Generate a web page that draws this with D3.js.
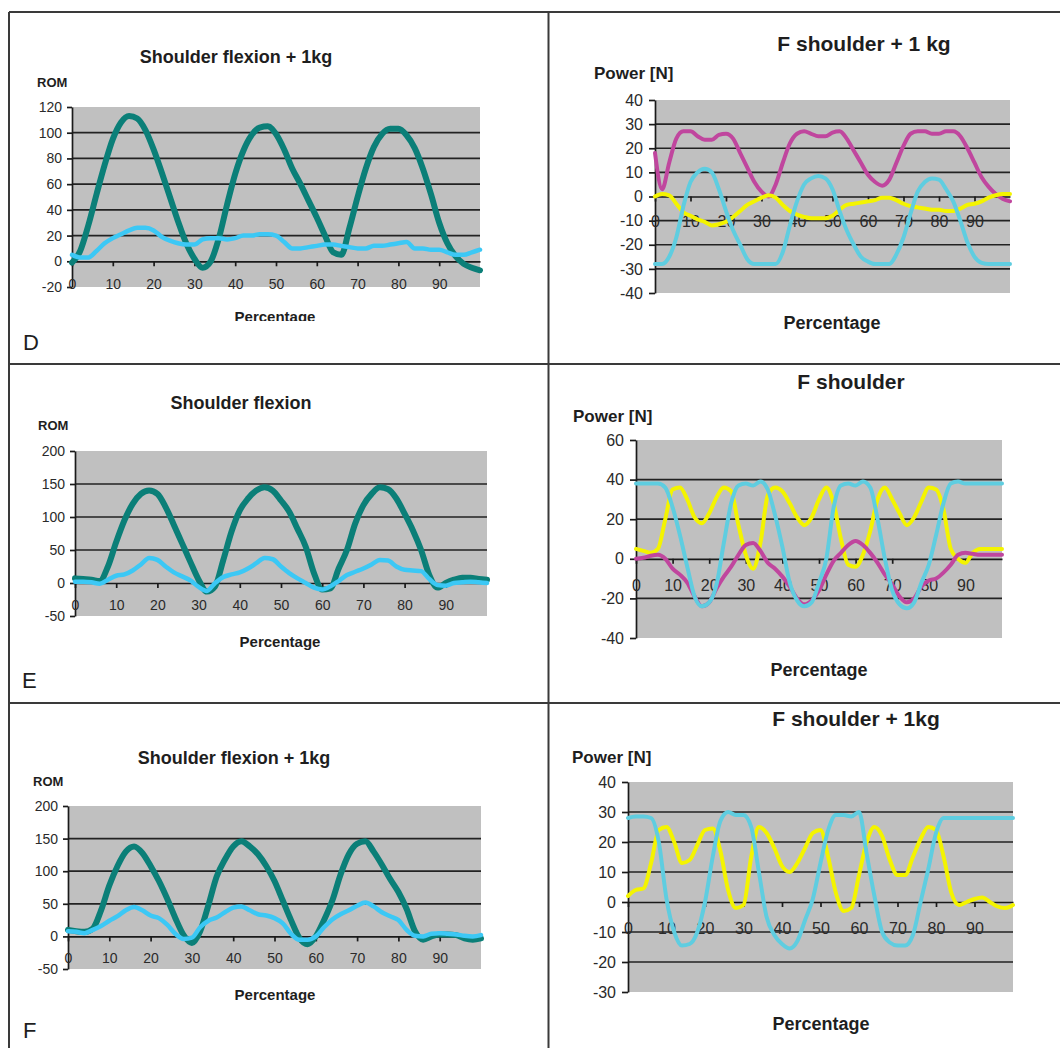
<!DOCTYPE html>
<html>
<head>
<meta charset="utf-8">
<script src="https://cdn.jsdelivr.net/npm/d3@7"></script>
<style>
  body { margin: 0; background: #fff; }
  svg { display: block; font-family: Arial, "Liberation Sans", sans-serif; }
</style>
</head>
<body>
<div id="chart"></div>
<script>

// Percentage of the movement cycle (category axis).
const pct = [0, 2, 4, 6, 8, 10, 12, 14, 16, 18, 20, 22, 24, 26, 28, 30, 32, 34, 36, 38, 40,
             42, 44, 46, 48, 50, 52, 54, 56, 58, 60, 62, 64, 66, 68, 70, 72, 74, 76, 78, 80,
             82, 84, 86, 88, 90, 92, 94, 96, 98, 100];
const xTickLabels = [0, 10, 20, 30, 40, 50, 60, 70, 80, 90];

// D: shoulder flexion + 1kg (ROM) and F shoulder + 1 kg (power)
const dRomTeal = [-1, 8, 28, 52, 75, 95, 108, 113, 111, 102, 87, 69, 50, 31, 14, 2, -5, 0, 18, 44, 68,
                  86, 98, 104, 105, 99, 87, 72, 60, 47, 34, 20, 7, 5, 26, 50, 72, 89, 99, 103, 103,
                  98, 88, 72, 52, 30, 14, 4, -2, -5, -7];
const dRomCyan = [5, 3, 3, 8, 14, 18, 21, 24, 26, 26, 24, 19, 16, 14, 13, 13, 17, 18, 18, 17, 18,
                  20, 20, 21, 21, 20, 15, 10, 10, 11, 12, 13, 13, 12, 11, 10, 10, 12, 12, 13, 14,
                  15, 10, 10, 9, 9, 7, 5, 5, 7, 9];
const dPowMagenta = [18, 3, 14, 24, 27, 27, 25, 23.5, 23.5, 25.5, 26, 24, 18, 12, 6, 2, 0, 5, 14, 22, 26,
                     27, 26, 25, 25, 26.5, 27, 24, 19, 14, 9, 6, 4.5, 7, 14, 21, 26, 27, 27, 26, 26,
                     27, 27, 25, 20, 14, 8, 4, 1, -1, -2];
const dPowYellow = [0, 1, 0.5, -3, -6.5, -8, -9.5, -10.5, -12, -11.5, -10.5, -8.5, -6, -3.5, -2, -0.5, 0.5, -0.5, -3.5, -6, -7.5,
                    -8.5, -9, -9, -9, -8, -5.5, -3.5, -3, -2.5, -2, -1.5, -0.5, -0.5, -1.5, -3, -4, -4.5, -5, -5.5, -5.5,
                    -6, -6, -5, -3.5, -3, -2, -0.5, 0.5, 1, 1];
const dPowCyan = [-28, -28, -25, -17, -4, 6, 10, 11.5, 10, 3, -6, -14, -20, -26, -28, -28, -28, -28, -23, -12, -2,
                  5, 7.5, 8.5, 7.5, 3, -6, -14, -20, -25, -27, -28, -28, -28, -24, -17, -7, 2, 6, 7.5, 7,
                  3, -2, -10, -19, -25, -27.5, -28, -28, -28, -28];

// E: shoulder flexion (ROM) and F shoulder (power)
const eRomTeal = [7, 6, 5, 3, 25, 62, 95, 120, 135, 140, 135, 115, 88, 60, 32, 5, -13, -5, 35, 78, 110,
                  128, 140, 145, 140, 125, 108, 82, 55, 15, -10, -8, 22, 50, 90, 118, 135, 145, 142, 128, 105,
                  80, 50, 12, -7, 0, 5, 8, 8, 6, 5];
const eRomCyan = [2, 2, 1, -1, 5, 11, 13, 19, 28, 38, 35, 25, 16, 10, 4, -6, -12, 0, 9, 13, 16,
                  22, 30, 38, 36, 25, 15, 7, 0, -7, -10, -5, 3, 12, 17, 22, 28, 35, 34, 25, 20,
                  19, 18, 6, -3, -4, 0, 1, 2, 1, 0];
const ePowCyan = [38, 38, 38, 38, 36, 26, 12, -4, -19, -24, -22, -13, 8, 28, 37, 38, 37, 39, 35, 22, 6,
                  -12, -21, -24, -22, -12, 0, 26, 37, 38, 37, 39, 36, 20, 0, -16, -23, -25, -22, -12, -3,
                  12, 28, 38, 39, 38, 38, 38, 38, 38, 38];
const ePowYellow = [5, 4, 3, 5, 20, 35, 36, 30, 21, 18, 23, 31, 36, 34, 17, 2, -5, 8, 32, 36, 34,
                    28, 21, 17, 21, 30, 36, 28, 10, -3, -4, 2, 14, 30, 36, 30, 23, 17, 21, 29, 36,
                    35, 25, 5, 0, -2, 3, 5, 5, 5, 5];
const ePowMagenta = [0, 0.5, 1.5, 2, 0, -5, -8, -12, -19, -24, -22, -15, -9, -4, 2, 7, 8, 4, -2, -5, -9,
                     -14, -20, -23, -21, -16, -8, -1, 3, 7, 9, 7, 3, -2, -8, -13, -19, -22, -20, -14, -11,
                     -10, -7, -3, 2, 3, 2.5, 2, 2, 2, 2];

// F: shoulder flexion + 1kg (ROM) and F shoulder + 1kg (power)
const fRomTeal = [10, 8, 7, 12, 40, 78, 108, 130, 138, 128, 108, 85, 58, 28, 2, -10, 8, 48, 92, 118, 138,
                  146, 138, 126, 108, 85, 55, 25, -2, -12, 0, 25, 55, 95, 126, 142, 146, 130, 110, 88, 68,
                  42, 8, -5, 0, 3, 3, 2, -3, -5, -3];
const fRomCyan = [8, 7, 5, 10, 16, 24, 31, 40, 45, 40, 32, 28, 18, 4, -4, -2, 14, 24, 29, 37, 44,
                  46, 40, 34, 32, 28, 20, 4, -5, -5, 0, 14, 26, 34, 40, 47, 52, 46, 37, 31, 25,
                  10, 1, 0, 4, 5, 4, 3, 1, 0, 2];
const fPowCyan = [28, 28.5, 28.5, 28, 20, 1, -10, -14.5, -14, -10, 0, 15, 27, 30, 29, 29, 25, 10, -5, -11, -14,
                  -15.5, -13, -6, 1, 13, 24, 29, 29, 28.5, 30, 16, 2, -10, -13.5, -14.5, -14.5, -11, 0, 11, 23,
                  28, 28, 28, 28, 28, 28, 28, 28, 28, 28];
const fPowYellow = [2, 4, 4.5, 13, 24, 25, 20, 13, 14, 19, 24, 24.5, 17, 4, -2, -1, 15, 25, 23, 18, 12,
                    10, 13, 18, 23, 24, 15, 3, -3, -2, 9, 20, 25, 22, 14, 9, 9, 15, 21, 25, 24,
                    15, 3, -1, 0, 1, 1.5, 0, -1.5, -2, -1];

// Y tick values per chart.
const romTicksD = [-20, 0, 20, 40, 60, 80, 100, 120];
const romTicksEF = [-50, 0, 50, 100, 150, 200];
const powTicksD = [-40, -30, -20, -10, 0, 10, 20, 30, 40];
const powTicksE = [-40, -20, 0, 20, 40, 60];
const powTicksF = [-30, -20, -10, 0, 10, 20, 30, 40];

// Colours as in the spreadsheet charts.
const teal = "#0b7f78";
const skyBlue = "#3cc8f5";
const aqua = "#5fcde0";
const magenta = "#c0469e";
const yellow = "#f4f400";

const svg = d3.select("#chart").append("svg")
    .attr("width", 1060)
    .attr("height", 1048);

// Frame of the figure: outer lines and dividers between the six panels.
const frame = [
    [9, 12, 1060, 12], [9, 364, 1060, 364], [9, 703, 1060, 703],
    [9, 12, 9, 1048], [548.5, 12, 548.5, 1048]
];
svg.selectAll(".frame").data(frame).join("line")
    .attr("x1", d => d[0]).attr("y1", d => d[1])
    .attr("x2", d => d[2]).attr("y2", d => d[3])
    .attr("stroke", "#3a3a3a")
    .attr("stroke-width", 2);

// Plain hyphen for negatives, as in the original labels.
const plain = d => String(d);

function drawPanel(p) {
    const x = d3.scaleLinear().domain([0, 100]).range([p.left, p.right]);
    const y = d3.scaleLinear().domain(p.yDomain).range([p.bottom, p.top]);
    const g = svg.append("g");

    // Grey plot area.
    g.append("rect")
        .attr("x", p.left).attr("y", p.top)
        .attr("width", p.right - p.left).attr("height", p.bottom - p.top)
        .attr("fill", "#c0c0c0");

    // Horizontal gridlines (not on the plot edges, zero is the x axis).
    const inner = p.yTicks.filter(v => v !== p.yDomain[0] && v !== p.yDomain[1] && v !== 0);
    g.selectAll(".grid").data(inner).join("line")
        .attr("x1", p.left).attr("x2", p.right)
        .attr("y1", d => y(d)).attr("y2", d => y(d))
        .attr("stroke", "#222")
        .attr("stroke-width", 1.7);

    // Y axis.
    const yAxis = g.append("g")
        .attr("transform", `translate(${p.left},0)`)
        .call(d3.axisLeft(y).tickValues(p.yTicks).tickFormat(plain)
            .tickSize(p.yTick).tickSizeOuter(0).tickPadding(p.yPad));
    yAxis.attr("font-size", p.font).attr("font-family", null);

    // X axis crosses at zero, labels sit below it.
    const xAxis = g.append("g")
        .attr("transform", `translate(0,${y(0)})`)
        .call(d3.axisBottom(x).tickValues(xTickLabels).tickFormat(plain)
            .tickSize(5).tickSizeOuter(0).tickPadding(p.xPad));
    xAxis.attr("font-size", p.font).attr("font-family", null);

    g.selectAll(".domain, .tick line").attr("stroke", "#1a1a1a").attr("stroke-width", 1.7);
    g.selectAll(".tick text").attr("fill", "#2a2a2a");

    const line = d3.line()
        .x((d, i) => x(pct[i]))
        .y(d => y(d))
        .curve(d3.curveMonotoneX);

    p.lines.forEach(s => {
        g.append("path")
            .datum(s.values)
            .attr("d", line)
            .attr("fill", "none")
            .attr("stroke", s.color)
            .attr("stroke-width", s.width)
            .attr("stroke-linejoin", "round")
            .attr("stroke-linecap", "round");
    });
}

const panels = [
    { left: 72, right: 480, top: 107, bottom: 287, yDomain: [-20, 120], yTicks: romTicksD,
      font: 14, yTick: 5, yPad: 5, xPad: 13,
      lines: [{values: dRomTeal, color: teal, width: 6}, {values: dRomCyan, color: skyBlue, width: 4.5}] },
    { left: 655, right: 1010, top: 100, bottom: 293, yDomain: [-40, 40], yTicks: powTicksD,
      font: 16, yTick: 6, yPad: 6, xPad: 14,
      lines: [{values: dPowMagenta, color: magenta, width: 4}, {values: dPowYellow, color: yellow, width: 4},
              {values: dPowCyan, color: aqua, width: 4}] },
    { left: 75, right: 487, top: 451, bottom: 616, yDomain: [-50, 200], yTicks: romTicksEF,
      font: 14, yTick: 5, yPad: 5, xPad: 12,
      lines: [{values: eRomTeal, color: teal, width: 6}, {values: eRomCyan, color: skyBlue, width: 4.5}] },
    { left: 636, right: 1002, top: 440, bottom: 638, yDomain: [-40, 60], yTicks: powTicksE,
      font: 16, yTick: 6, yPad: 6, xPad: 16,
      lines: [{values: ePowYellow, color: yellow, width: 4}, {values: ePowMagenta, color: magenta, width: 4},
              {values: ePowCyan, color: aqua, width: 4}] },
    { left: 68, right: 481, top: 806, bottom: 969, yDomain: [-50, 200], yTicks: romTicksEF,
      font: 14, yTick: 5, yPad: 5, xPad: 12,
      lines: [{values: fRomTeal, color: teal, width: 6}, {values: fRomCyan, color: skyBlue, width: 4.5}] },
    { left: 628, right: 1013, top: 782, bottom: 992, yDomain: [-30, 40], yTicks: powTicksF,
      font: 16, yTick: 6, yPad: 6, xPad: 16,
      lines: [{values: fPowYellow, color: yellow, width: 4}, {values: fPowCyan, color: aqua, width: 4}] }
];
panels.forEach(drawPanel);

// Titles, axis names and panel letters.
const texts = [
    {t: "Shoulder flexion + 1kg", x: 236, y: 57, size: 18, bold: true, anchor: "middle"},
    {t: "ROM", x: 37, y: 82, size: 13, bold: true, anchor: "start"},
    {t: "Percentage", x: 275, y: 316, size: 15, bold: true, anchor: "middle", clip: true},
    {t: "D", x: 23, y: 342, size: 22, bold: false, anchor: "start"},
    {t: "F shoulder + 1 kg", x: 864, y: 43, size: 21, bold: true, anchor: "middle"},
    {t: "Power [N]", x: 594, y: 73, size: 17, bold: true, anchor: "start"},
    {t: "Percentage", x: 832, y: 323, size: 18, bold: true, anchor: "middle"},

    {t: "Shoulder flexion", x: 241, y: 403, size: 18, bold: true, anchor: "middle"},
    {t: "ROM", x: 38, y: 425, size: 13, bold: true, anchor: "start"},
    {t: "Percentage", x: 280, y: 641, size: 15, bold: true, anchor: "middle"},
    {t: "E", x: 22, y: 680, size: 22, bold: false, anchor: "start"},
    {t: "F shoulder", x: 851, y: 381, size: 21, bold: true, anchor: "middle"},
    {t: "Power [N]", x: 573, y: 416, size: 17, bold: true, anchor: "start"},
    {t: "Percentage", x: 819, y: 670, size: 18, bold: true, anchor: "middle"},

    {t: "Shoulder flexion + 1kg", x: 234, y: 758, size: 18, bold: true, anchor: "middle"},
    {t: "ROM", x: 33, y: 781, size: 13, bold: true, anchor: "start"},
    {t: "Percentage", x: 275, y: 994, size: 15, bold: true, anchor: "middle"},
    {t: "F", x: 23, y: 1030, size: 22, bold: false, anchor: "start"},
    {t: "F shoulder + 1kg", x: 856, y: 718, size: 21, bold: true, anchor: "middle"},
    {t: "Power [N]", x: 572, y: 757, size: 17, bold: true, anchor: "start"},
    {t: "Percentage", x: 821, y: 1024, size: 18, bold: true, anchor: "middle"}
];

// The first "Percentage" is cut at its descenders in the original.
svg.append("clipPath").attr("id", "cut")
    .append("rect").attr("x", 0).attr("y", 0).attr("width", 548).attr("height", 321);

svg.selectAll(".label").data(texts).join("text")
    .attr("x", d => d.x)
    .attr("y", d => d.y)
    .attr("dominant-baseline", "central")
    .attr("text-anchor", d => d.anchor)
    .attr("font-size", d => d.size)
    .attr("font-weight", d => d.bold ? "bold" : "normal")
    .attr("fill", "#1e1e1e")
    .attr("clip-path", d => d.clip ? "url(#cut)" : null)
    .text(d => d.t);

</script>
</body>
</html>
